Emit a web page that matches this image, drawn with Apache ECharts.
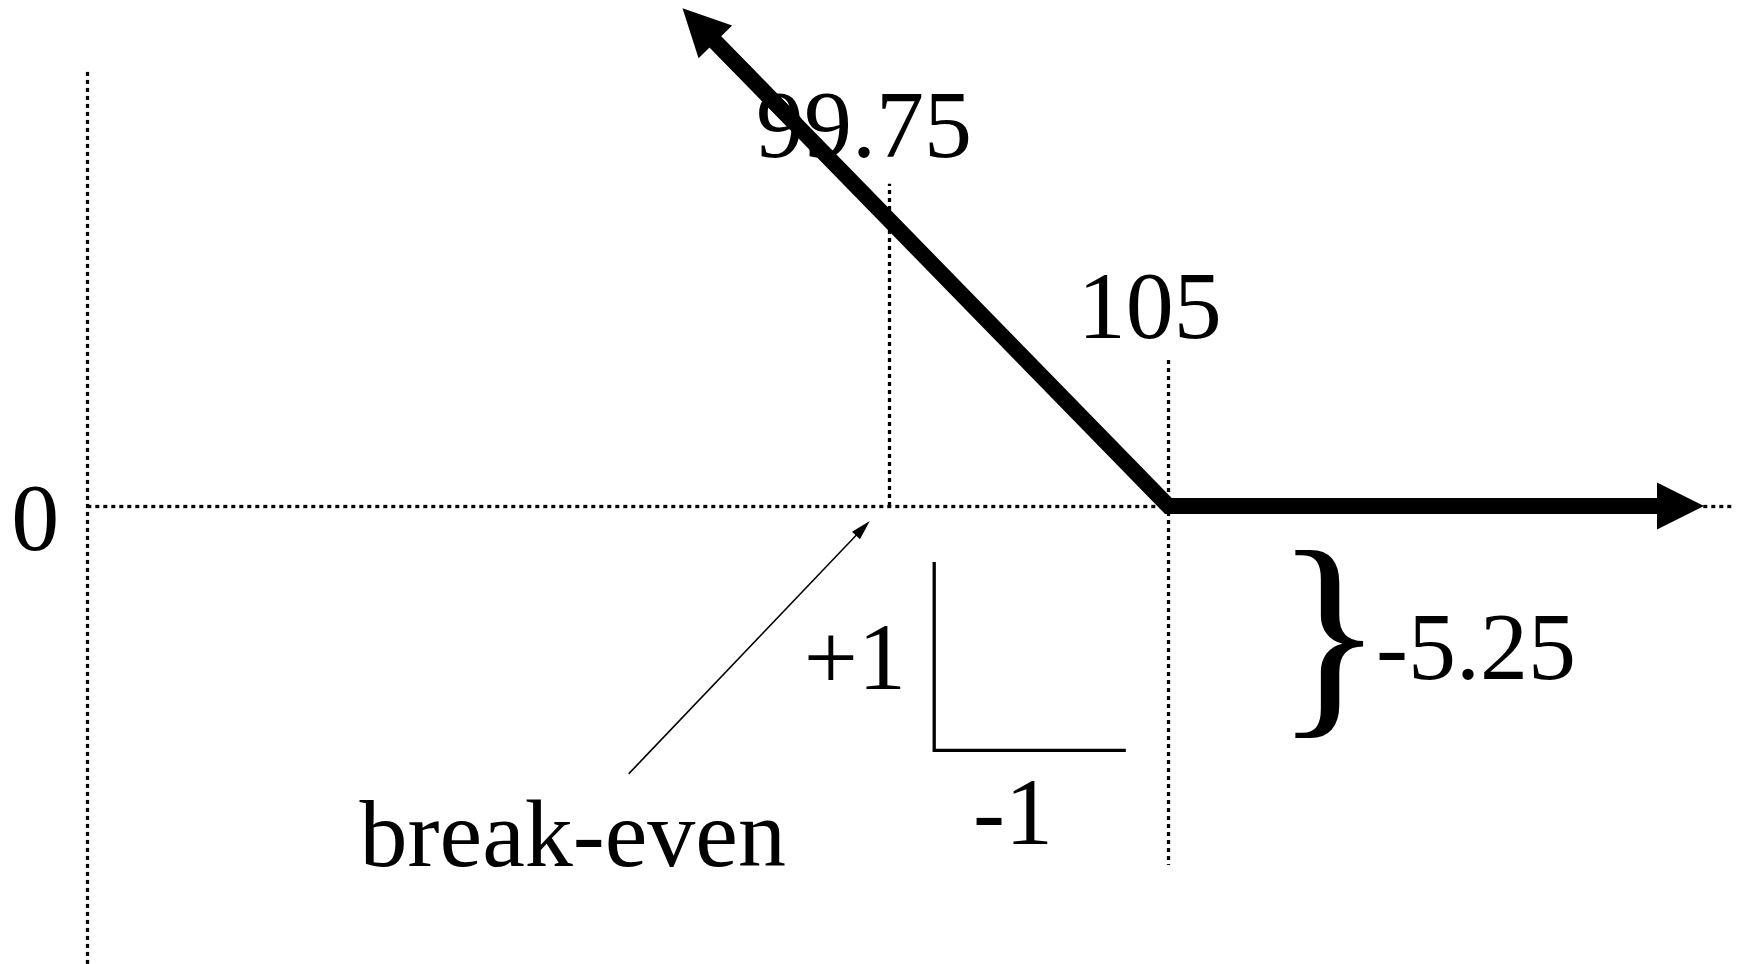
<!DOCTYPE html>
<html>
<head>
<meta charset="utf-8">
<title>payoff</title>
<script src="https://cdn.jsdelivr.net/npm/echarts@6/dist/echarts.min.js"></script>
<style>
    html, body {
        margin: 0;
        padding: 0;
        width: 100%;
        height: 100%;
        background: #fff;
    }
    #chart { width: 1738px; height: 964px; }
</style>
</head>
<body>
<div id="chart"></div>
<script type="text/javascript">

// axis ranges (price on x, payoff on y)
var priceRange = [83.05, 115.7];
var payoffRange = [-8.6, 9.5];

// thick payoff line, strike 105
var payoffLine = [[96.18, 9.03], [105, 0], [114.62, 0]];
var arrowUp = [[98, 7.17], [96.18, 9.03]];
var arrowRight = [[110, 0], [114.62, 0]];

// dotted guides
var zeroLine = [[84.69, 0], [115.59, 0]];
var leftLine = [[84.69, 8.15], [84.69, -8.6]];
var breakEvenLine = [[99.75, 0], [99.75, 6.05]];
var strikeLine = [[105, 2.74], [105, -6.74]];

// slope marker
var slopeMarker = [[100.6, -1.05], [100.6, -4.59], [104.2, -4.59]];

// thin pointer to break-even
var pointer = [[94.86, -5.03], [99.26, -0.42]];

// texts
var labelTexts = ['99.75', '105', '0', '+1', '-1', '}', '-5.25', 'break-even'];
var labelAnchors = [
    [99.28, 7.03], [104.65, 3.63], [83.71, -0.35], [99.11, -2.97],
    [102.08, -5.87], [108.02, -2.67], [108.9, -2.77], [93.81, -6.29]
];
var labelAlign = ['center', 'center', 'center', 'center', 'center', 'center', 'left', 'center'];
var labelSize = [96, 96, 96, 96, 96, 227, 96, 96];

var chart = echarts.init(document.getElementById('chart'));

var dotted = { color: '#000', width: 3.3, type: [4, 4], cap: 'butt', opacity: 1 };

var option = {
    animation: false,
    backgroundColor: '#fff',
    grid: { left: 0, right: 0, top: 0, bottom: 0, containLabel: false },
    xAxis: { type: 'value', min: priceRange[0], max: priceRange[1], show: false },
    yAxis: { type: 'value', min: payoffRange[0], max: payoffRange[1], show: false },
    series: [
        {
            type: 'lines',
            coordinateSystem: 'cartesian2d',
            silent: true,
            lineStyle: dotted,
            data: [
                { coords: zeroLine },
                { coords: leftLine },
                { coords: breakEvenLine },
                { coords: strikeLine }
            ],
            z: 1
        },
        {
            type: 'lines',
            coordinateSystem: 'cartesian2d',
            polyline: true,
            silent: true,
            lineStyle: { color: '#000', width: 3.3, opacity: 1 },
            data: [{ coords: slopeMarker }],
            z: 2
        },
        {
            type: 'lines',
            coordinateSystem: 'cartesian2d',
            silent: true,
            symbol: ['none', 'triangle'],
            symbolSize: [0, [11, 20]],
            lineStyle: { color: '#000', width: 1.5, opacity: 1 },
            data: [{ coords: pointer }],
            z: 2
        },
        {
            type: 'line',
            data: payoffLine,
            symbol: 'none',
            silent: true,
            lineStyle: { color: '#000', width: 16, join: 'miter', cap: 'butt' },
            z: 3
        },
        {
            type: 'lines',
            coordinateSystem: 'cartesian2d',
            silent: true,
            symbol: ['none', 'triangle'],
            symbolSize: [0, 47],
            lineStyle: { color: '#000', width: 16, opacity: 1 },
            data: [{ coords: arrowUp }, { coords: arrowRight }],
            z: 3
        },
        {
            type: 'scatter',
            silent: true,
            symbolSize: 1,
            itemStyle: { color: 'rgba(0,0,0,0)', opacity: 1 },
            data: labelTexts.map(function (t, i) {
                return {
                    name: t,
                    value: labelAnchors[i],
                    label: {
                        show: true,
                        position: 'inside',
                        formatter: t,
                        align: labelAlign[i],
                        verticalAlign: 'middle',
                        fontFamily: 'Liberation Serif',
                        fontSize: labelSize[i],
                        color: '#000',
                        opacity: 1,
                        textBorderWidth: 0
                    }
                };
            }),
            z: 4
        }
    ]
};
chart.setOption(option);

</script>
</body>
</html>
